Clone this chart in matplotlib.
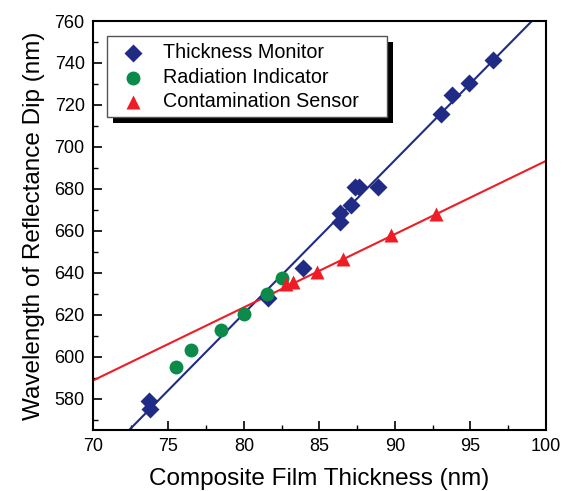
import numpy as np
import matplotlib
matplotlib.use("Agg")
import matplotlib.pyplot as plt
from matplotlib.patches import Rectangle
from matplotlib.transforms import ScaledTranslation
from matplotlib.ticker import MultipleLocator

# Thickness monitor samples
thick_x = [73.7, 73.8, 81.6, 83.9, 86.36, 86.36, 87.1, 87.35, 87.6, 88.9,
           93.05, 93.77, 94.9, 96.5]
thick_y = [578.6, 575.2, 628.0, 642.4, 664.3, 668.6, 672.4, 680.9, 681.0, 681.0,
           715.7, 724.7, 730.4, 741.4]

# Radiation indicator samples
rad_x = [75.5, 76.5, 78.5, 80.0, 81.5, 82.5]
rad_y = [595.0, 603.3, 612.9, 620.5, 630.0, 637.6]

# Contamination sensor samples
cont_x = [82.78, 83.25, 84.83, 86.56, 89.74, 92.72]
cont_y = [634.8, 635.7, 640.5, 646.7, 658.1, 668.1]

# reported linear fits (slope, intercept)
thick_fit = (7.31, 35.8)
cont_fit = (3.49, 344.3)

labels = ["Thickness Monitor", "Radiation Indicator", "Contamination Sensor"]

navy = "#1f2b85"
green = "#0b8a4a"
red = "#ee1c24"

plt.rcParams["font.family"] = ["Liberation Sans", "DejaVu Sans"]

fig = plt.figure(figsize=(5.64, 4.91), dpi=100)
ax = fig.add_axes([0.1649, 0.1242, 0.8031, 0.833])

xx = np.array([70.0, 100.0])
ax.plot(xx, np.polyval(thick_fit, xx), color=navy, lw=1.5, zorder=2)
ax.plot(xx, np.polyval(cont_fit, xx), color=red, lw=1.5, zorder=2)

styles = [("D", navy, 9.5), ("o", green, 10), ("^", red, 10.5)]
series = [(thick_x, thick_y), (rad_x, rad_y), (cont_x, cont_y)]
for (m, c, ms), (sx, sy) in zip(styles, series):
    ax.plot(sx, sy, m, color=c, ms=ms, mec="none", zorder=3)

ax.set_xlim(70, 100)
ax.set_ylim(565, 760)
ax.xaxis.set_major_locator(MultipleLocator(5))
ax.xaxis.set_minor_locator(MultipleLocator(2.5))
ax.yaxis.set_major_locator(MultipleLocator(20))
ax.yaxis.set_minor_locator(MultipleLocator(10))
ax.tick_params(which="major", direction="in", length=6.5, width=1.2, labelsize=13, pad=6)
ax.tick_params(which="minor", direction="in", length=3.5, width=1.0)
for s in ax.spines.values():
    s.set_linewidth(1.5)

ax.set_xlabel("Composite Film Thickness (nm)", fontsize=17.5, labelpad=9)
ax.set_ylabel("Wavelength of Reflectance Dip (nm)", fontsize=17.5, labelpad=7)

# legend box with a solid drop shadow
bx0, bx1, by0, by1 = 0.031, 0.649, 0.765, 0.963
tr = ax.transAxes
shadow_tr = tr + ScaledTranslation(6 / 100, -6 / 100, fig.dpi_scale_trans)
ax.add_patch(Rectangle((bx0, by0), bx1 - bx0, by1 - by0, transform=shadow_tr,
                       facecolor="black", edgecolor="none", zorder=6))
ax.add_patch(Rectangle((bx0, by0), bx1 - bx0, by1 - by0, transform=tr,
                       facecolor="white", edgecolor="#555555", lw=1.0, zorder=7))
entry_y = [0.922, 0.861, 0.802]
for (m, c, ms), lab, ey in zip(styles, labels, entry_y):
    ax.plot([0.088], [ey], m, color=c, ms=ms, mec="none", transform=tr, zorder=8,
            clip_on=False)
    ax.text(0.155, ey, lab, transform=tr, fontsize=14.2, va="center", ha="left", zorder=8)

fig.savefig("out.png", dpi=100)
